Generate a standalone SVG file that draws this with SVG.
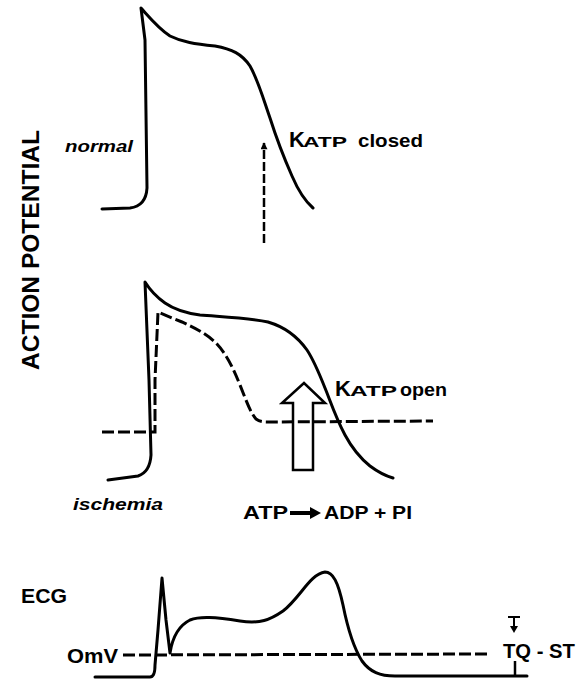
<svg xmlns="http://www.w3.org/2000/svg" width="581" height="679" viewBox="0 0 581 679">
<style>
.c{fill:none;stroke:#000;stroke-width:3;stroke-linecap:round;stroke-linejoin:round}
.d{fill:none;stroke:#000;stroke-width:3;stroke-dasharray:12 4}
.t{font-family:"Liberation Sans",Arial,sans-serif;font-weight:bold;fill:#000}
.i{font-family:"Liberation Sans",Arial,sans-serif;font-weight:bold;font-style:italic;fill:#000}
</style>
<defs>
<marker id="ah" viewBox="0 0 10 10" refX="9" refY="5" markerWidth="8" markerHeight="7" orient="auto" markerUnits="userSpaceOnUse">
<path d="M0,0 L10,5 L0,10 Z" fill="#000"/>
</marker>
</defs>
<rect width="581" height="679" fill="#fff"/>

<g id="axis-label">
<text class="t" font-size="23" textLength="240" lengthAdjust="spacingAndGlyphs" transform="translate(39,370) rotate(-90)">ACTION POTENTIAL</text>
</g>

<g id="normal-ap">
<path class="c" d="M102,209 L130,208 Q146,206 147,188 L145,40 L141,8 C150,18 158,28 170,36 C182,42 195,44 215,46 C232,49 242,54 250,66 C258,80 263,98 270,118 C277,140 284,158 292,176 C298,190 305,201 313,208"/>
<text class="i" x="65" y="152" font-size="16" textLength="68" lengthAdjust="spacingAndGlyphs">normal</text>
</g>

<g id="katp-closed">
<text class="t" x="289" y="147" font-size="22">K</text>
<text class="t" x="303" y="147" font-size="15" textLength="44" lengthAdjust="spacingAndGlyphs">ATP</text>
<text class="t" x="358" y="147" font-size="19" textLength="65" lengthAdjust="spacingAndGlyphs">closed</text>
</g>

<g id="ischemia-ap">
<path class="c" d="M108,480 L138,476 Q150,472 151,455 L149,380 L145,282 C150,290 155,296 165,303 C175,310 185,313 200,315 C225,317 250,318 268,322 C285,327 297,336 307,350 C315,362 321,378 327,393 C332,406 337,420 345,435 C352,448 360,458 370,466 C378,472 386,476 393,478"/>
<path class="d" d="M102,432 L155,432 L155,380 L158,312 C165,315 172,318 182,322 C195,328 205,333 215,342 C225,352 232,365 240,385 C246,400 250,412 256,419 C260,422 264,422 268,422 L433,421"/>
<text class="i" x="73" y="510" font-size="16" textLength="90" lengthAdjust="spacingAndGlyphs">ischemia</text>
</g>

<g id="katp-open">
<text class="t" x="335" y="396" font-size="22">K</text>
<text class="t" x="350" y="396" font-size="15" textLength="47" lengthAdjust="spacingAndGlyphs">ATP</text>
<text class="t" x="400" y="396" font-size="19" textLength="47" lengthAdjust="spacingAndGlyphs">open</text>
</g>

<g id="atp-reaction">
<text class="t" x="243" y="519" font-size="18" textLength="45" lengthAdjust="spacingAndGlyphs">ATP</text>
<text class="t" x="324" y="519" font-size="18" textLength="88" lengthAdjust="spacingAndGlyphs">ADP + PI</text>
</g>

<g id="ecg">
<text class="t" x="21" y="603" font-size="20" textLength="46" lengthAdjust="spacingAndGlyphs">ECG</text>
<text class="t" x="67" y="663" font-size="20" textLength="51" lengthAdjust="spacingAndGlyphs">OmV</text>
<path class="d" d="M123,655 L488,654" stroke-dasharray="11 4"/>
<path class="c" d="M95,677 L150,677 Q155,677 155,665 L158,630 L162,578 L166,620 L170,653 C172,640 178,626 190,620 C200,616 215,617 240,621 C260,624 270,620 283,611 C300,598 310,574 325,572 C333,572 338,582 343,605 C348,630 355,650 362,661 C370,672 380,676 395,676 L527,676"/>
<text class="t" x="503" y="658" font-size="20" textLength="72" lengthAdjust="spacingAndGlyphs">TQ - ST</text>
</g>

<g id="connectors">
<path d="M264,243 L264,143" fill="none" stroke="#000" stroke-width="2.5" stroke-dasharray="9 3" marker-end="url(#ah)"/>
<polygon points="293,470 293,403 282,403 304,383 325,403 313,403 313,470" fill="none" stroke="#000" stroke-width="2.5" stroke-linejoin="miter"/>
<path d="M290,513 L313,513" stroke="#000" stroke-width="4"/>
<path d="M310,507 L321,513 L310,519 Z" fill="#000"/>
<path d="M508,617 L520,617 M514,617 L514,628" stroke="#000" stroke-width="2"/>
<path d="M510,626 L514,633 L518,626 Z" fill="#000"/>
<path d="M515,661 L515,676" stroke="#000" stroke-width="2.5"/>
</g>
</svg>
